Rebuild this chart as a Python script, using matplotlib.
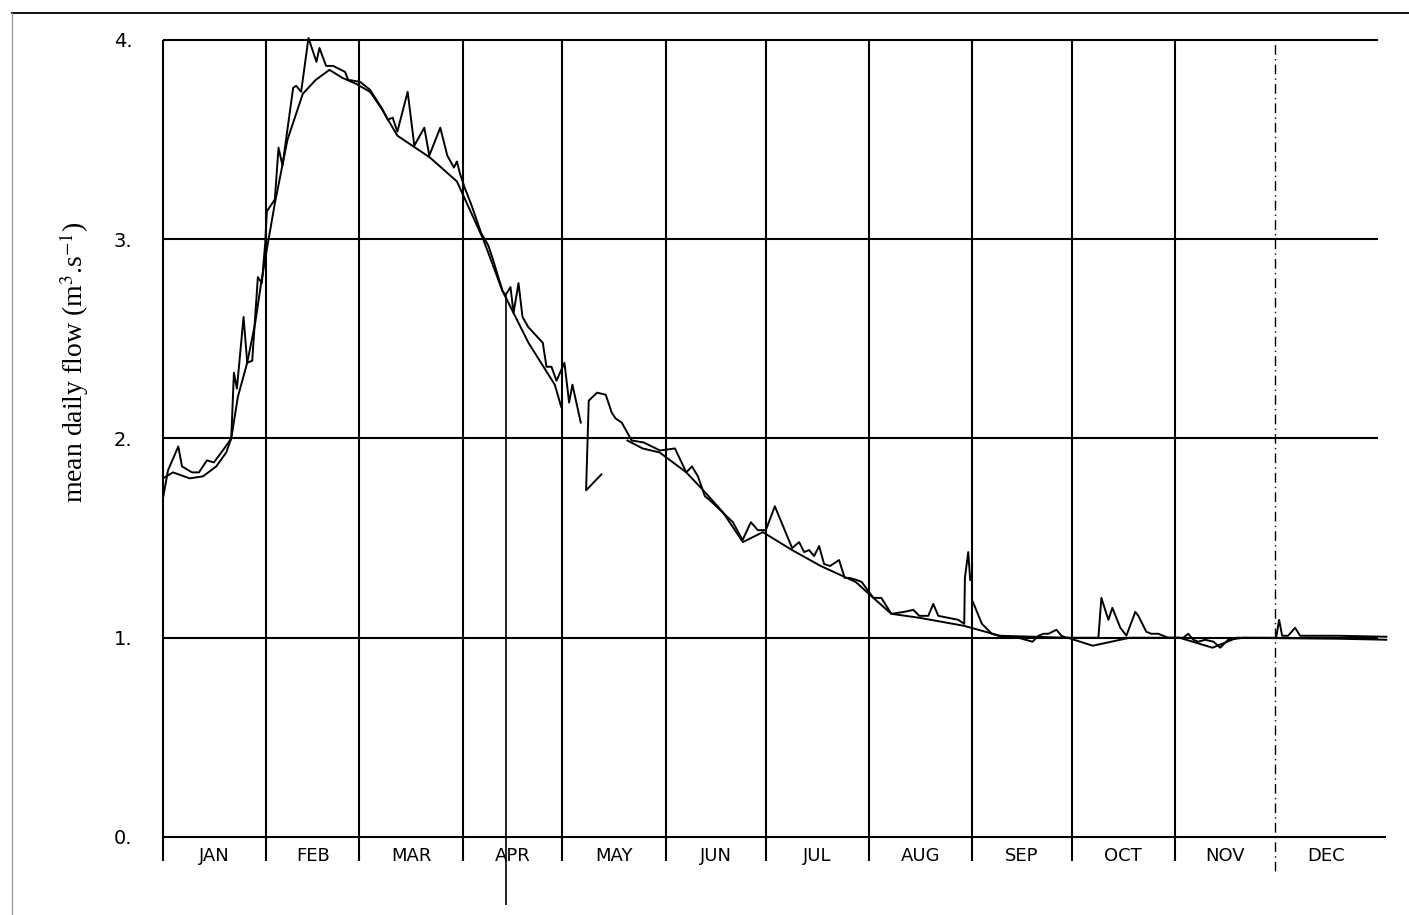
import numpy as np
import matplotlib.pyplot as plt
from matplotlib.lines import Line2D

plt.rcParams['mathtext.fontset'] = 'stix'

# daily mean flow (m3/s) by day of year; nan breaks the trace
flow_day = [0, 1.5, 4.6, 5.7, 8.7, 10.8, 13.2, 15.3, 18.4, 20.5, 21.3, 22.2,
            24.2, 25.3, 26.8, 28.5, 29.7, 30.7, 31.2, 33.6, 34.7, 35.9,
            39.1, 40.0, 41.5, 43.7, 46.1, 47.0, 49.0, 51.1, 54.7, 55.6,
            59.2, 62.2, 66.0, 67.5, 69.0, 70.4, 73.5, 75.5, 78.5, 80.0,
            83.3, 85.4, 87.4, 88.3, 89.2, 90.6, 92.7, 95.6, 97.7, 99.1,
            102.0, 102.9, 104.4, 105.3, 106.8, 108.0, 109.7, 114.1, 115.2,
            116.7, 118.2, 120.6, 122.0, 123.0, 125.5, np.nan,
            131.7, 127.1, 127.9, 130.4, 133.0, 134.8, 136.0, 137.8, 140.8,
            144.4, 149.3, 153.8, 157.2, 158.9, 160.7, 162.8, 164.3, 171.2,
            174.1, 176.6, 178.7, 181.1, 183.8, 187.0, 189.0, 191.1, 192.6,
            194.1, 195.6, 197.1, 198.6, 200.4, 203.1, 204.8, 206.3, 208.4,
            209.9, 213.4, 215.8, 218.8, 222.7, 225.4, 227.2, 229.9, 231.4,
            232.9, 235.9, 238.9, 240.7, 240.9, 241.9, 242.5, np.nan,
            243.3, 246.0, 249.0, 251.0, 257.0, 261.2, 263.0, 264.5, 266.0,
            268.4, 269.9, 271.4, 281.0, 281.9, 284.0, 285.2, 287.6, 289.4,
            292.1, 293.0, 295.4, 296.9, 299.0, 302.0, 306.5, 308.0, 309.5,
            311.0, 313.1, 315.6, 317.6, 320.0, 324.5, 329.0, 334.4, 335.3,
            336.2, 338.0, 340.1, 341.6, 353.0, 367.5]
flow_value = [1.70, 1.84, 1.96, 1.86, 1.83, 1.83, 1.89, 1.88, 1.95, 2.00, 2.33,
              2.25, 2.61, 2.38, 2.39, 2.81, 2.78, 2.98, 3.14, 3.20, 3.46,
              3.37, 3.76, 3.77, 3.74, 4.01, 3.89, 3.96, 3.87, 3.87, 3.84,
              3.80, 3.79, 3.75, 3.65, 3.60, 3.61, 3.54, 3.74, 3.47, 3.56,
              3.42, 3.56, 3.42, 3.36, 3.39, 3.33, 3.26, 3.17, 3.03, 2.97,
              2.90, 2.74, 2.72, 2.76, 2.63, 2.78, 2.61, 2.56, 2.48, 2.36,
              2.36, 2.29, 2.38, 2.18, 2.27, 2.08, np.nan,
              1.82, 1.74, 2.19, 2.23, 2.22, 2.13, 2.10, 2.08, 1.99, 1.98,
              1.94, 1.95, 1.83, 1.86, 1.81, 1.71, 1.69, 1.58, 1.49, 1.58,
              1.54, 1.54, 1.66, 1.53, 1.45, 1.48, 1.43, 1.44, 1.41, 1.46,
              1.37, 1.36, 1.39, 1.30, 1.30, 1.29, 1.28, 1.20, 1.20, 1.12,
              1.13, 1.14, 1.11, 1.11, 1.17, 1.11, 1.10, 1.09, 1.07, 1.30,
              1.43, 1.29, np.nan,
              1.18, 1.07, 1.02, 1.01, 1.00, 0.98, 1.01, 1.02, 1.02, 1.04,
              1.01, 1.00, 1.00, 1.20, 1.09, 1.15, 1.05, 1.01, 1.13, 1.11,
              1.03, 1.02, 1.02, 1.00, 1.00, 1.02, 0.99, 0.98, 0.99, 0.98,
              0.95, 0.99, 1.00, 1.00, 1.00, 1.09, 1.01, 1.01, 1.05, 1.01,
              1.01, 1.005]

# smoothed flow curve
trend_day = [0, 3, 8, 12, 16, 19, 20.5, 22.5, 25.3, 27.7, 29.3, 31.3, 33.6,
             37.4, 42.0, 45.9, 50.0, 53.9, 58.0, 62.2, 65.5, 70.4, 80.2, 88.3,
             96.2, 102.0, 109.8, 117.7, 119.6, np.nan,
             139.5, 144.1, 149.2, 157.2, 162.3, 168.2, 174.2, 180.2, 189.0,
             197.6, 208.1, 213.4, 218.8, 227.3, 240.6, 251.4, 271.8, 279.3,
             290.4, 305.4, 315.3, 322.6, 353.5, 367.5]
trend_value = [1.80, 1.83, 1.80, 1.81, 1.86, 1.93, 2.00, 2.21, 2.38, 2.58,
               2.76, 2.96, 3.18, 3.50, 3.73, 3.80, 3.85, 3.81, 3.78, 3.74,
               3.66, 3.52, 3.41, 3.29, 3.00, 2.74, 2.48, 2.27, 2.16, np.nan,
               1.99, 1.95, 1.93, 1.83, 1.74, 1.63, 1.48, 1.53, 1.44, 1.36,
               1.28, 1.20, 1.12, 1.10, 1.06, 1.01, 1.00, 0.96, 1.00, 1.00,
               0.95, 1.00, 0.995, 0.99]

months = ['JAN', 'FEB', 'MAR', 'APR', 'MAY', 'JUN', 'JUL', 'AUG', 'SEP',
          'OCT', 'NOV', 'DEC']
month_len = [31, 28, 31, 30, 31, 30, 31, 31, 30, 31, 30, 31]
flow_ticks = [0, 1, 2, 3, 4]

month_start = np.concatenate([[0], np.cumsum(month_len)])
month_mid = (month_start[:-1] + month_start[1:]) / 2

W, H = 1409, 915
fig = plt.figure(figsize=(W / 100, H / 100), dpi=100)
ax = fig.add_axes([163 / W, 1 - 837 / H, (1378 - 163) / W, (837 - 40) / H])
ax.set_xlim(0, 365)
ax.set_ylim(0, 4)
ax.spines[:].set_visible(False)
ax.set_xticks([])
ax.set_yticks(flow_ticks)
ax.set_yticklabels([f'{v}.' for v in flow_ticks], family='DejaVu Sans',
                   fontsize=14)
ax.tick_params(axis='y', length=0, pad=22)

# grid: flow levels and month boundaries
ax.hlines(flow_ticks, 0, 365, color='k', lw=1.5, clip_on=False)
ax.hlines(0, 365, 367.5, color='k', lw=1.5, clip_on=False)
ax.vlines(month_start[:11], -0.12, 4, color='k', lw=1.5, clip_on=False)
ax.vlines(month_start[11], -0.17, 4, color='k', lw=1.0,
          linestyles=(0, (7, 3, 1, 3)), clip_on=False)

for mid, name in zip(month_mid, months):
    ax.text(mid, -0.095, name, ha='center', va='center', fontsize=13,
            family=['Liberation Sans Narrow', 'DejaVu Sans'])

ax.plot(trend_day, trend_value, color='k', lw=1.4, clip_on=False)
ax.plot(flow_day, flow_value, color='k', lw=1.4, clip_on=False)

# pen stroke dropping off the April trace
i_drop = flow_value.index(2.72)
ax.vlines(flow_day[i_drop], -0.34, flow_value[i_drop], color='k', lw=1.2,
          clip_on=False)

fig.text(74 / W, 1 - 362 / H, r'mean daily flow (m$^3$.s$^{-1}$)',
         rotation=90, ha='center', va='center', fontsize=20,
         family='Liberation Serif')

# outer frame
fig.add_artist(Line2D([12 / W, 1], [1 - 13 / H] * 2, color='k', lw=1.3,
                      transform=fig.transFigure))
fig.add_artist(Line2D([12 / W] * 2, [0, 1 - 13 / H], color='0.55', lw=0.8,
                      transform=fig.transFigure))

fig.savefig('out.png', dpi=100, facecolor='white')
